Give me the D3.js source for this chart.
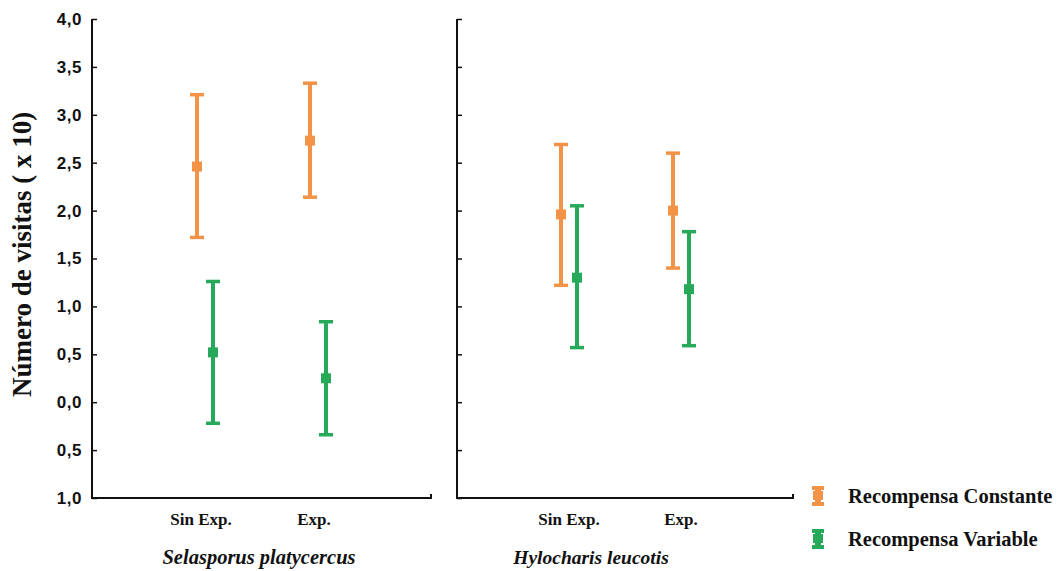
<!DOCTYPE html>
<html>
<head>
<meta charset="utf-8">
<script src="https://cdn.jsdelivr.net/npm/d3@7"></script>
<style>
  body { margin: 0; background: #fff; }
</style>
</head>
<body>
<div id="chart"></div>
<script>
// data
const species = ['Selasporus platycercus', 'Hylocharis leucotis'];
const groups = ['Sin Exp.', 'Exp.'];
const series = ['Recompensa Constante', 'Recompensa Variable'];
const yTicks = [-1, -0.5, 0, 0.5, 1, 1.5, 2, 2.5, 3, 3.5, 4];

// mean, lower, upper per species / group
const constMean  = [[2.46, 2.73], [1.96, 2.00]];
const constLow   = [[1.72, 2.14], [1.22, 1.40]];
const constHigh  = [[3.21, 3.33], [2.69, 2.60]];
const varMean    = [[0.52, 0.25], [1.30, 1.18]];
const varLow     = [[-0.22, -0.34], [0.57, 0.59]];
const varHigh    = [[1.26, 0.84], [2.05, 1.78]];

const orange = '#f39347';
const green = '#27a95a';
const serif = '"Liberation Serif", "Times New Roman", serif';

const width = 1063, height = 571;

const svg = d3.select('#chart')
  .append('svg')
    .attr('width', width)
    .attr('height', height);

const y = d3.scaleLinear()
    .domain([-1, 4])
    .range([498, 19]);

const panels = [
  {x0: 92, x1: 431, labelX: 259, fs: 20.5},
  {x0: 457, x1: 793, labelX: 591, fs: 19.5}
];

const color = d3.scaleOrdinal()
    .domain(series)
    .range([orange, green]);

// y tick labels (shown on left only)
svg.append('g')
    .attr('font-family', 'Arial, "Liberation Sans", sans-serif')
    .attr('font-weight', 'bold')
    .attr('font-size', 17)
    .attr('text-anchor', 'end')
  .selectAll('text')
  .data(yTicks)
  .join('text')
    .attr('x', 82)
    .attr('y', d => y(d))
    .attr('dy', '0.35em')
    .attr('fill', '#111')
    .attr('letter-spacing', 0.5)
    .text(d => d3.format('.1f')(Math.abs(d)).replace('.', ','));

svg.append('text')
    .attr('transform', `translate(31, ${(y(4) + y(-1)) / 2 - 4}) rotate(-90)`)
    .attr('text-anchor', 'middle')
    .attr('font-family', serif)
    .attr('font-weight', 'bold')
    .attr('font-size', 27)
    .attr('fill', '#111')
    .text('Número de visitas ( x 10)');

const rows = [];
species.forEach((sp, si) => {
  groups.forEach((gr, gi) => {
    rows.push({sp: si, grp: gr, serie: series[0], mean: constMean[si][gi], lo: constLow[si][gi], hi: constHigh[si][gi]});
    rows.push({sp: si, grp: gr, serie: series[1], mean: varMean[si][gi], lo: varLow[si][gi], hi: varHigh[si][gi]});
  });
});

panels.forEach((p, si) => {
  const g = svg.append('g');

  const x = d3.scalePoint()
      .domain(groups)
      .range([p.x0, p.x1])
      .padding(1);

  const off = d3.scalePoint()
      .domain(series)
      .range([-8, 8]);

  // axes
  const yAxis = d3.axisRight(y)
      .tickValues(yTicks)
      .tickSize(5)
      .tickFormat('');

  g.append('g')
      .attr('transform', `translate(${p.x0},0)`)
      .call(yAxis)
      .call(a => a.select('.domain').remove())
      .call(a => a.selectAll('line').attr('stroke', '#111').attr('stroke-width', 1.5));

  g.append('path')
      .attr('d', `M${p.x0},${y(4)}V${y(-1)}H${p.x1}V${y(-1) - 4}`)
      .attr('fill', 'none')
      .attr('stroke', '#111')
      .attr('stroke-width', 2);

  // group labels
  g.selectAll('.grp')
    .data(groups)
    .join('text')
      .attr('class', 'grp')
      .attr('x', d => x(d) - (si === 0 ? 4 : 0))
      .attr('y', 525)
      .attr('text-anchor', 'middle')
      .attr('font-family', serif)
      .attr('font-weight', 'bold')
      .attr('font-size', 17)
      .attr('fill', '#111')
      .text(d => d);

  g.append('text')
      .attr('x', p.labelX)
      .attr('y', 564)
      .attr('text-anchor', 'middle')
      .attr('font-family', serif)
      .attr('font-weight', 'bold')
      .attr('font-style', 'italic')
      .attr('font-size', p.fs)
      .attr('fill', '#111')
      .text(species[si]);

  // error bars
  const bars = g.selectAll('.bar')
    .data(rows.filter(r => r.sp === si))
    .join('g')
      .attr('class', 'bar')
      .attr('transform', d => `translate(${x(d.grp) + off(d.serie)},0)`);

  bars.append('line')
      .attr('y1', d => y(d.hi))
      .attr('y2', d => y(d.lo))
      .attr('stroke', d => color(d.serie))
      .attr('stroke-width', 4);

  bars.selectAll('.cap')
    .data(d => [d.hi, d.lo].map(v => ({v, serie: d.serie})))
    .join('line')
      .attr('class', 'cap')
      .attr('x1', -7)
      .attr('x2', 7)
      .attr('y1', d => y(d.v))
      .attr('y2', d => y(d.v))
      .attr('stroke', d => color(d.serie))
      .attr('stroke-width', 3.5);

  bars.append('rect')
      .attr('x', -5)
      .attr('y', d => y(d.mean) - 5)
      .attr('width', 10)
      .attr('height', 10)
      .attr('fill', d => color(d.serie));
});

// legend
const legend = svg.append('g')
    .attr('transform', 'translate(818,487)')
  .selectAll('g')
  .data(series)
  .join('g')
    .attr('transform', (d, i) => `translate(0,${i * 43})`);

legend.append('rect')
    .attr('x', -3)
    .attr('y', 0)
    .attr('width', 6)
    .attr('height', 18)
    .attr('fill', color);

legend.append('rect')
    .attr('x', -6)
    .attr('y', -1)
    .attr('width', 12)
    .attr('height', 4)
    .attr('fill', color);

legend.append('rect')
    .attr('x', -6)
    .attr('y', 15)
    .attr('width', 12)
    .attr('height', 4)
    .attr('fill', color);

legend.append('rect')
    .attr('x', -5)
    .attr('y', 4)
    .attr('width', 10)
    .attr('height', 9)
    .attr('fill', color);

legend.append('text')
    .attr('x', 30)
    .attr('y', 9)
    .attr('dy', '0.35em')
    .attr('font-family', serif)
    .attr('font-weight', 'bold')
    .attr('font-size', 20.5)
    .attr('fill', '#111')
    .text(d => d);
</script>
</body>
</html>
